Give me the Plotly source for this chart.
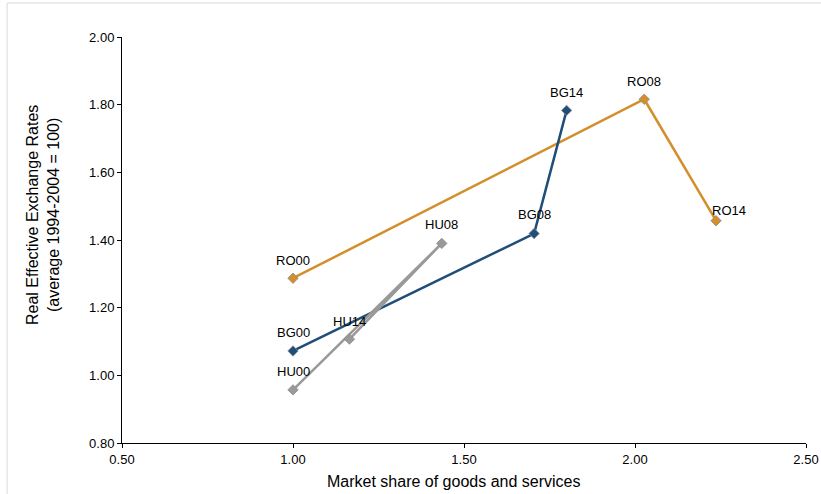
import plotly.graph_objects as go

ro_labels = ["RO00", "RO08", "RO14"]
ro_x = [1.00, 2.027, 2.237]
ro_y = [1.287, 1.816, 1.457]

bg_labels = ["BG00", "BG08", "BG14"]
bg_x = [1.00, 1.705, 1.800]
bg_y = [1.072, 1.419, 1.783]

hu_labels = ["HU00", "HU08", "HU14"]
hu_x = [1.00, 1.435, 1.165]
hu_y = [0.957, 1.390, 1.107]

x_ticks = [0.5, 1.0, 1.5, 2.0, 2.5]
y_ticks = [0.8, 1.0, 1.2, 1.4, 1.6, 1.8, 2.0]

x_title = "Market share of goods and services"
y_title = "Real Effective Exchange Rates<br>(average 1994-2004 = 100)"

FONT = "Liberation Sans, Arial, sans-serif"

fig = go.Figure()
annotations = []

def add_series(xs, ys, labels, color, shifts):
    fig.add_trace(go.Scatter(
        x=xs, y=ys, mode="lines+markers",
        line=dict(color=color, width=2.5),
        marker=dict(symbol="diamond", size=8, color=color,
                    line=dict(color="#8c8c8c", width=0.8)),
        cliponaxis=False, showlegend=False, hoverinfo="x+y",
    ))
    for x, y, t, (dx, dy) in zip(xs, ys, labels, shifts):
        annotations.append(dict(
            x=x, y=y, text=t, showarrow=False, xref="x", yref="y",
            xanchor="center", yanchor="middle", xshift=dx, yshift=dy,
            font=dict(family=FONT, size=13, color="#000000"),
        ))

add_series(ro_x, ro_y, ro_labels, "#D38F2B", [(0, 18), (0, 18), (13, 10)])
add_series(bg_x, bg_y, bg_labels, "#1F4E79", [(0, 18), (0, 19), (0, 18)])
add_series(hu_x, hu_y, hu_labels, "#999999", [(0, 18), (0, 19), (0, 18)])

# axis titles as annotations (offset from plot centre, as in the reference)
annotations.append(dict(
    text=x_title, xref="paper", yref="paper", x=0.4846, y=-0.0936,
    xanchor="center", yanchor="middle", showarrow=False,
    font=dict(family=FONT, size=16, color="#000000"),
))
annotations.append(dict(
    text=y_title, xref="paper", yref="paper", x=-0.1155, y=0.5616,
    xanchor="center", yanchor="middle", showarrow=False, textangle=-90,
    font=dict(family=FONT, size=16, color="#000000"),
))

fig.update_layout(
    width=821, height=494,
    margin=dict(l=122, r=15, t=37, b=51),
    paper_bgcolor="white", plot_bgcolor="white",
    font=dict(family=FONT, size=13, color="#000000"),
    annotations=annotations,
    xaxis=dict(
        range=[0.5, 2.5], tickvals=x_ticks,
        ticktext=[f"{v:.2f}" for v in x_ticks],
        showgrid=False, zeroline=False, automargin=False,
        showline=True, linecolor="#000000", linewidth=1,
        ticks="outside", ticklen=4, tickcolor="#000000",
        tickfont=dict(family=FONT, size=13),
    ),
    yaxis=dict(
        range=[0.8, 2.0], tickvals=y_ticks,
        ticktext=[f"{v:.2f}" for v in y_ticks],
        showgrid=False, zeroline=False, automargin=False,
        showline=True, linecolor="#000000", linewidth=1,
        ticks="outside", ticklen=4, tickcolor="#000000",
        tickfont=dict(family=FONT, size=13),
    ),
    shapes=[
        dict(type="line", xref="paper", yref="paper",
             x0=-0.168, x1=1.05, y0=1.0837, y1=1.0837,
             line=dict(color="#d9d9d9", width=1)),
        dict(type="line", xref="paper", yref="paper",
             x0=-0.168, x1=-0.168, y0=-0.2, y1=1.0837,
             line=dict(color="#d9d9d9", width=1)),
    ],
)

fig.write_html(
    "out.html",
    config={"displayModeBar": False},
    post_script="document.body.style.margin='0';document.body.style.overflow='hidden';",
)
